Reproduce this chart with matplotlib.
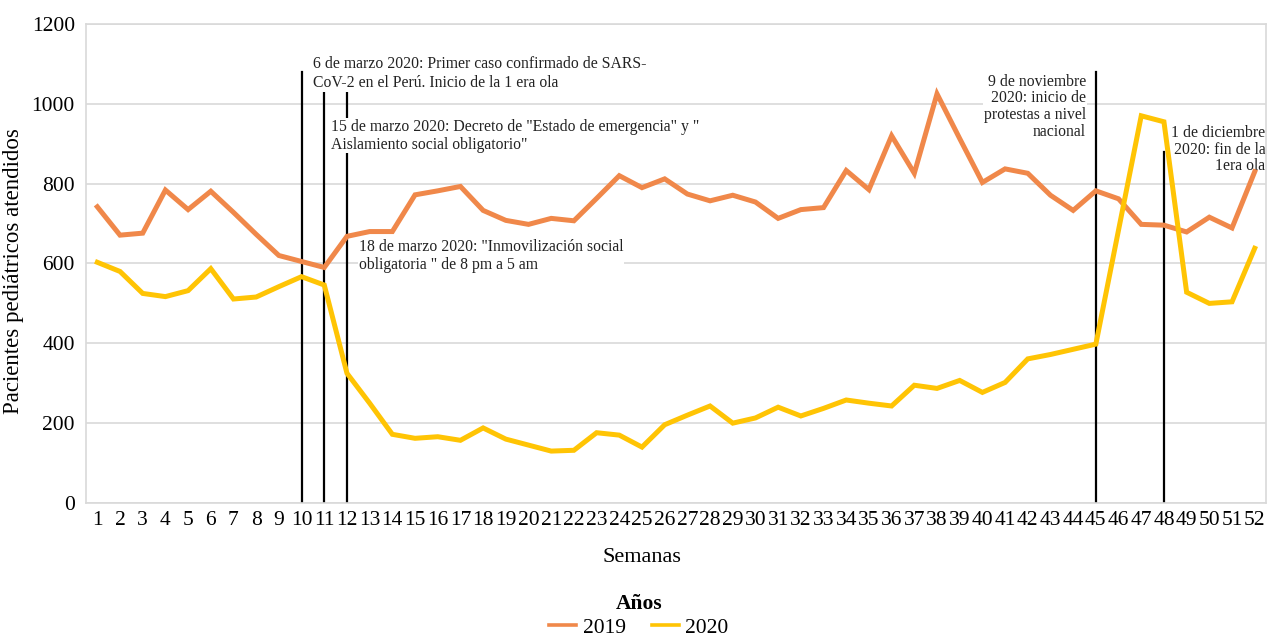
import numpy as np
import matplotlib.pyplot as plt

plt.rcParams['font.family'] = ['Liberation Serif', 'DejaVu Serif']

semanas = np.arange(1, 53)
pac_2019 = [742, 671, 676, 784, 735, 781, 728, 673, 620, 605,
            590, 668, 680, 680, 772, 782, 793, 733, 708, 698,
            713, 707, 763, 820, 790, 812, 774, 757, 771, 754,
            713, 735, 740, 833, 785, 920, 826, 1025, 913, 803,
            837, 826, 771, 733, 782, 762, 698, 696, 679, 716,
            689, 830]
pac_2020 = [603, 580, 525, 517, 532, 587, 511, 516, 542, 567,
            546, 325, 250, 172, 162, 166, 157, 188, 160, 145,
            130, 132, 176, 170, 140, 196, 220, 243, 200, 213,
            240, 218, 237, 258, 250, 243, 295, 287, 307, 277,
            302, 361, 372, 385, 398, 684, 970, 955, 528, 500,
            504, 638]

# semana del evento, altura de la linea vertical
eventos_sem = [10, 11, 12, 45, 48]
eventos_top = [1080, 1080, 1080, 1080, 880]

# x, y, alineacion, interlineado, texto
notas = [
    (10.5, 1120, 'left', 1.25, '6 de marzo 2020: Primer caso confirmado de SARS-\nCoV-2 en el Perú. Inicio de la 1 era ola'),
    (11.3, 962, 'left', 1.15, '15 de marzo 2020: Decreto de "Estado de emergencia" y "\nAislamiento social obligatorio"'),
    (12.53, 661, 'left', 1.15, '18 de marzo 2020: "Inmovilización social\nobligatoria " de 8 pm a 5 am'),
    (44.57, 1075, 'right', 1.05, '9 de noviembre\n2020: inicio de\nprotestas a nivel\nnacional'),
    (52.48, 947, 'right', 1.05, '1 de diciembre\n2020: fin de la\n1era ola'),
]

fig = plt.figure(figsize=(12.7, 6.4), dpi=100)
ax = fig.add_axes([0.0677, 0.2141, 0.9292, 0.7484])

ax.plot(semanas, pac_2019, color='#F0884A', lw=3.6, label='2019', zorder=3, solid_joinstyle='miter')
ax.plot(semanas, pac_2020, color='#FFC404', lw=3.6, label='2020', zorder=3, solid_joinstyle='miter')

for s, top in zip(eventos_sem, eventos_top):
    ax.plot([s, s], [0, top], color='black', lw=1.6, zorder=2)

for x, y, ha, ls, txt in notas:
    ax.text(x, y, txt, ha=ha, va='top', fontsize=11.3, linespacing=ls, zorder=2.5,
            color='#222222', clip_on=False,
            bbox=dict(facecolor='white', edgecolor='none', pad=0.5))

ax.set_xlim(0.5, 52.5)
ax.set_ylim(0, 1200)
ax.set_xticks(semanas)
ax.set_xticklabels([str(s) for s in semanas])
ax.set_yticks(np.arange(0, 1201, 200))
ax.tick_params(axis='both', length=0, labelsize=15.5)
ax.tick_params(axis='x', pad=6)
ax.tick_params(axis='y', pad=8)
ax.grid(axis='y', color='#D9D9D9', lw=1.2)
ax.set_axisbelow(True)
for sp in ax.spines.values():
    sp.set_color('#D9D9D9')
    sp.set_linewidth(1.2)

ax.set_xlabel('Semanas', fontsize=16)
ax.xaxis.set_label_coords(0.471, -0.095)
ax.set_ylabel('Pacientes pediátricos atendidos', fontsize=16.5)
ax.yaxis.set_label_coords(-0.0525, 0.485)

leg = fig.legend(loc='lower center', bbox_to_anchor=(0.503, -0.027), ncol=2, frameon=False,
                 fontsize=15.5, title='Años', title_fontproperties={'weight': 'bold', 'size': 15.5},
                 handlelength=1.25, columnspacing=1.2, handletextpad=0.3, labelspacing=0.2)
for h in leg.legend_handles:
    h.set_linewidth(2.6)

fig.savefig('out.png', dpi=100)
